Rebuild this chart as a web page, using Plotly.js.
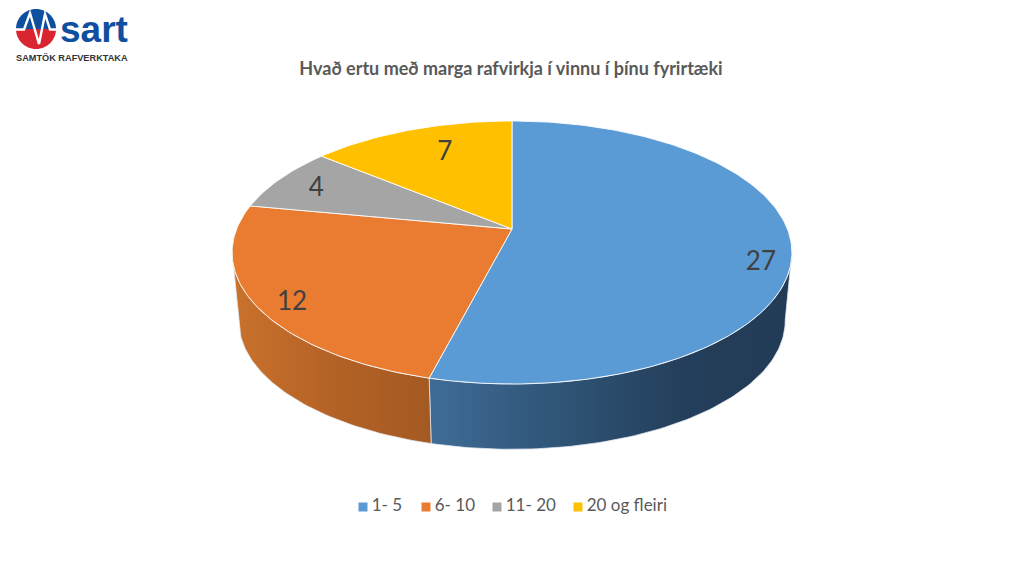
<!DOCTYPE html>
<html>
<head>
<meta charset="utf-8">
<script src="https://cdn.plot.ly/plotly-3.0.1.min.js"></script>
<style>html,body{margin:0;padding:0;background:#fff;overflow:hidden}</style>
</head>
<body>
<div id="chart" style="width:1024px;height:576px"></div>
<script>
// ---- data ----
const categories = ['1- 5', '6- 10', '11- 20', '20 og fleiri'];
const values = [27, 12, 4, 7];
const chartTitle = 'Hvað ertu með marga rafvirkja í vinnu í þínu fyrirtæki';

// ---- styles ----
const topColors = ['#5B9BD5', '#E97C30', '#A5A5A5', '#FFC000'];
const sideScales = [
  [[0, '#3F6C97'], [0.35, '#2F5577'], [0.7, '#243F5B'], [1, '#223B56']],
  [[0, '#C9722C'], [0.5, '#B46226'], [1, '#A35A22']],
  null, null
];
const labelOffsets = [[-2, 20], [-24, 17], [1, 3], [-3, -13]];   // pixel nudges from mid-angle anchor
const labelRadius = [0.9, 0.78, 0.84, 0.6];

// ---- projection of the tilted disc into page pixels ----
const cx = 512, cy = 229, a = 275.4, b = 127.3, k = 0.1787;
const depthY = 69, baseScale = 0.976;
function rim(deg, r, base) {
  const t = deg * Math.PI / 180, u = r * Math.sin(t), v = r * Math.cos(t), d = 1 + k * v;
  const s = base ? baseScale : 1;
  return [cx + s * a * u / d, cy + (base ? depthY : 0) - s * b * v / d];
}
function arc(from, to, base) {
  const pts = [], n = Math.max(2, Math.ceil(Math.abs(to - from)));
  for (let i = 0; i <= n; i++) pts.push(rim(from + (to - from) * i / n, 1, base));
  return pts;
}
const total = values.reduce((p, c) => p + c, 0);
const traces = [];
const edges = [];
let acc = 0;
values.forEach(v => { edges.push([acc / total * 360, (acc + v) / total * 360]); acc += v; });

// visible side walls (limited to the silhouette of the cylinder)
const silhouetteFrom = 100, silhouetteTo = 260;
edges.forEach((e, i) => {
  const f = Math.max(e[0], silhouetteFrom), t = Math.min(e[1], silhouetteTo);
  if (f >= t || !sideScales[i]) return;
  const pts = arc(f, t, false).concat(arc(t, f, true));
  pts.push(pts[0]);
  const xs = pts.map(p => p[0]);
  traces.push({
    type: 'scatter', mode: 'lines', x: xs, y: pts.map(p => p[1]),
    fill: 'toself', hoverinfo: 'skip', showlegend: false,
    line: {color: 'rgba(225,232,240,0.75)', width: 1},
    fillgradient: {type: 'horizontal', colorscale: sideScales[i], start: Math.min(...xs), stop: Math.max(...xs)}
  });
});

// top faces
edges.forEach((e, i) => {
  const pts = [[cx, cy]].concat(arc(e[0], e[1], false));
  pts.push([cx, cy]);
  traces.push({
    type: 'scatter', mode: 'lines', name: categories[i],
    x: pts.map(p => p[0]), y: pts.map(p => p[1]),
    fill: 'toself', fillcolor: topColors[i], hoverinfo: 'skip', showlegend: false,
    line: {color: 'rgba(255,255,255,0.85)', width: 1}
  });
});

// value labels
const anchors = edges.map((e, i) => {
  const p = rim((e[0] + e[1]) / 2, labelRadius[i], false);
  return [p[0] + labelOffsets[i][0], p[1] + labelOffsets[i][1]];
});
traces.push({
  type: 'scatter', mode: 'text', hoverinfo: 'skip', showlegend: false,
  x: anchors.map(p => p[0]), y: anchors.map(p => p[1]),
  text: values.map(String), textposition: 'middle center',
  textfont: {family: 'Lato, sans-serif', size: 26, color: '#404040'}
});

// legend row
const legendMarkerX = [363, 426, 497, 578], legendY = 507;
categories.forEach((c, i) => {
  traces.push({
    type: 'scatter', mode: 'markers+text', hoverinfo: 'skip', showlegend: false,
    x: [legendMarkerX[i]], y: [legendY], text: ['\u2009' + c], textposition: 'middle right',
    marker: {symbol: 'square', size: 9, color: topColors[i]},
    textfont: {family: 'Lato, sans-serif', size: 17, color: '#595959'}
  });
});

// logo badge
const logoX = 36, logoY = 29, logoR = 20;
function halfDisc(sign) {
  let d = '';
  for (let i = 0; i <= 60; i++) {
    const t = Math.PI * i / 60;
    d += (i ? ' L ' : 'M ') + (logoX - logoR * Math.cos(t)).toFixed(2) + ' ' + (logoY - sign * logoR * Math.sin(t)).toFixed(2);
  }
  return d + ' Z';
}

const layout = {
  width: 1024, height: 576,
  margin: {l: 0, r: 0, t: 0, b: 0},
  paper_bgcolor: '#fff', plot_bgcolor: '#fff', showlegend: false,
  title: {text: '<b>' + chartTitle + '</b>', x: 0.499, xanchor: 'center', y: 1 - 69 / 576, yanchor: 'middle',
          font: {family: 'Lato, sans-serif', size: 18, color: '#595959'}},
  xaxis: {range: [0, 1024], visible: false, fixedrange: true},
  yaxis: {range: [576, 0], visible: false, fixedrange: true},
  shapes: [
    {type: 'path', layer: 'above', xref: 'x', yref: 'y', line: {width: 0}, fillcolor: '#0F4F9F', path: halfDisc(1)},
    {type: 'path', layer: 'above', xref: 'x', yref: 'y', line: {width: 0}, fillcolor: '#D9252F', path: halfDisc(-1)},
    {type: 'path', layer: 'above', xref: 'x', yref: 'y', line: {color: '#fff', width: 2.4},
     path: 'M 16 29.5 L 24 29.5 L 30 13 L 39 44 L 45 14 L 50 29.5 L 56 29.5'}
  ],
  annotations: [
    {text: '<b>sart</b>', x: 58, y: 29.5, xref: 'x', yref: 'y', xanchor: 'left', yanchor: 'middle', showarrow: false,
     font: {family: 'Liberation Sans, sans-serif', size: 37, color: '#0F4F9F'}},
    {text: '<b>SAMTÖK RAFVERKTAKA</b>', x: 14, y: 58, xref: 'x', yref: 'y', xanchor: 'left', yanchor: 'middle', showarrow: false,
     font: {family: 'Liberation Sans, sans-serif', size: 9.2, color: '#333333'}}
  ]
};
Plotly.newPlot('chart', traces, layout, {displayModeBar: false, staticPlot: true});
</script>
</body>
</html>
